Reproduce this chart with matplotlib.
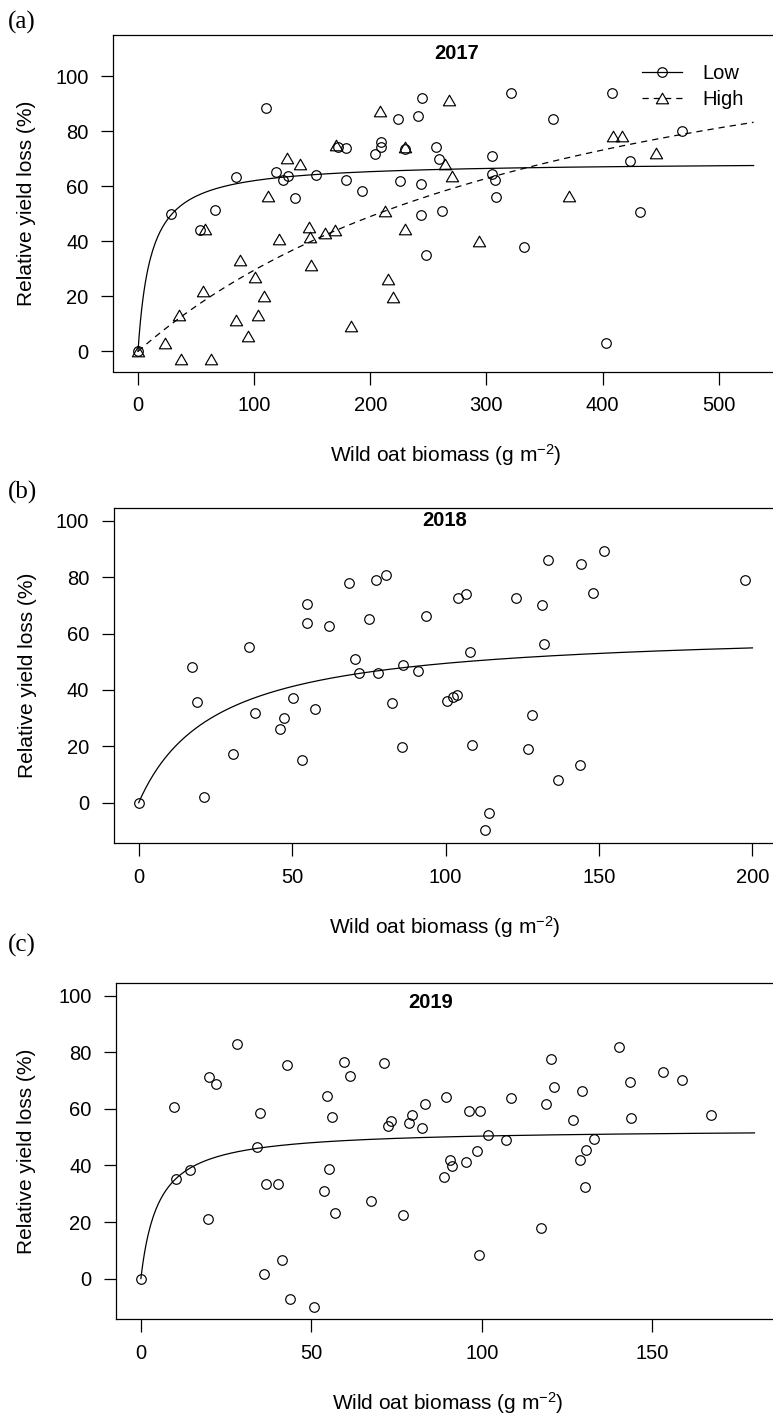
import numpy as np
import matplotlib.pyplot as plt
from matplotlib.path import Path
from matplotlib.lines import Line2D

plt.rcParams['font.family'] = ['Liberation Sans', 'DejaVu Sans']
plt.rcParams['mathtext.default'] = 'regular'

# 2017, low and high density
low17_x = [0, 28.4, 53.7, 66, 84, 110, 118.5, 124.8, 129.1, 135.1, 152.9, 172, 178.7, 179.4, 192.5,
           203.7, 208.9, 208.9, 223.8, 225.8, 230, 241, 243.3, 243.3, 244.7, 247.6, 256.2, 259, 261.6,
           304.4, 305, 307.2, 308.4, 321.3, 332.2, 357.5, 402.5, 408.3, 424, 432, 468.2]
low17_y = [0, 49.9, 44.2, 51.5, 63.4, 88.5, 65.2, 62.4, 63.6, 55.8, 64.2, 74.3, 62.4, 73.9, 58.2,
           71.6, 76.1, 74.2, 84.4, 61.8, 73.5, 85.6, 60.7, 49.6, 92, 34.9, 74.4, 69.7, 51,
           70.8, 64.4, 62.4, 55.9, 94, 37.8, 84.4, 3, 93.8, 69.3, 50.7, 80]
high17_x = [0, 23.6, 35, 37.3, 56.3, 57.4, 62.8, 84.1, 88.1, 94.4, 100.4, 103.3, 108.8, 111.6, 121.1,
            128.2, 139.2, 147.2, 148.4, 148.9, 161.3, 169.3, 170.1, 183, 208, 212.3, 215.5, 219.8,
            229.5, 229.5, 263.9, 267.4, 270.6, 293.5, 371.3, 408.8, 416.5, 446.4]
high17_y = [0, 3.2, 13.1, -2.9, 21.8, 44.3, -2.7, 11.3, 33.3, 5.5, 27, 13.2, 20.3, 56.5, 41,
            70.3, 68, 45.2, 41.6, 31.3, 43, 44, 74.9, 9.1, 87.4, 51, 26.4, 19.6,
            74.3, 44.4, 68, 91.3, 63.8, 40, 56.5, 78.2, 78.2, 71.9]

# 2018
low18_x = [0, 17.4, 19, 21.4, 30.7, 35.9, 38, 46, 47.3, 50.2, 53.3, 55, 55, 57.4, 62, 68.5, 70.5,
           71.8, 75.2, 77.4, 77.9, 80.6, 82.6, 85.9, 86.1, 90.9, 93.6, 100.4, 102.5, 103.8, 104.1,
           106.5, 108.1, 108.7, 112.7, 114.2, 122.9, 127, 128.3, 131.3, 132, 133.4, 136.6, 143.9,
           144.1, 147.9, 151.6, 197.5]
low18_y = [0, 48, 35.7, 2.1, 17.4, 55.3, 31.9, 26, 30, 37.2, 15.2, 70.6, 63.9, 33.3, 62.8, 78, 50.8,
           46.1, 65.1, 78.8, 46.1, 80.8, 35.4, 19.6, 48.9, 46.8, 66.2, 36.2, 37.5, 38.3, 72.7,
           74.1, 53.4, 20.3, -9.8, -3.8, 72.6, 19.2, 31.2, 70.1, 56.3, 86, 8.2, 13.4,
           84.5, 74.2, 89.3, 78.8]

# 2019
low19_x = [0, 9.7, 10.2, 14.4, 19.6, 20.1, 22, 28.1, 34.1, 34.9, 36.2, 36.6, 40.1, 41.3, 42.9, 43.6,
           50.8, 53.8, 54.5, 55.3, 56.1, 57, 59.7, 61.4, 67.4, 71.3, 72.6, 73.4, 76.9, 78.6, 79.4,
           82.5, 83.3, 88.9, 89.4, 90.6, 91.4, 95.5, 96.3, 98.6, 99.1, 99.4, 101.9, 107.1, 108.7,
           117.5, 118.7, 120.3, 121.1, 126.7, 128.7, 129.4, 130.3, 130.5, 132.9, 140.3, 143.5,
           143.9, 153.2, 158.7, 167.2]
low19_y = [0, 60.7, 35.2, 38.3, 21, 71.3, 68.7, 83, 46.6, 58.7, 1.5, 33.5, 33.6, 6.5, 75.4, -7.2,
           -10.2, 30.9, 64.7, 38.6, 57.2, 23.3, 76.5, 71.6, 27.3, 76.3, 53.8, 55.7, 22.5, 55.1, 57.8,
           53.4, 61.8, 35.8, 64.2, 41.9, 39.8, 41.1, 59.4, 45.2, 8.2, 59.4, 50.8, 48.9, 63.7,
           17.8, 61.8, 77.6, 67.8, 56, 42.1, 66.3, 32.3, 45.5, 49.4, 82, 69.5,
           56.7, 73, 70.2, 57.8]

# fitted rectangular hyperbola parameters (initial slope I, asymptote A, curve end)
fit_low17 = (6.186, 68.92, 530)
fit_high17 = (0.3708, 144.3, 530)
fit_18 = (2.476, 61.74, 200)
fit_19 = (10.317, 52.97, 180)


def hyperbola(fit):
    i, a, xmax = fit
    x = np.linspace(0, xmax, 500)
    return x, i * x / (1 + i * x / a)


W, H = 773, 1418
fig = plt.figure(figsize=(W / 100, H / 100), dpi=100)

tri = Path([(0, 1), (1.155, -1), (-1.155, -1), (0, 1)],
           [Path.MOVETO, Path.LINETO, Path.LINETO, Path.CLOSEPOLY])
circ_kw = dict(marker='o', ms=6.9, mfc='none', mec='k', mew=0.85)
tri_kw = dict(marker=tri, ms=8.8, mfc='none', mec='k', mew=0.85)
dash = (0, (5, 4))
xlab = 'Wild oat biomass (g m$^{-2}$)'
ylab = 'Relative yield loss (%)'


def panel(left, right, top, bottom, xlim, ylim, xticks, tag, tag_y):
    ax = fig.add_axes([left / W, 1 - bottom / H, (right - left) / W, (bottom - top) / H])
    ax.set_xlim(xlim)
    ax.set_ylim(ylim)
    ax.set_xticks(xticks)
    ax.set_yticks([0, 20, 40, 60, 80, 100])
    ax.tick_params(direction='out', length=9, width=0.9, pad=8.5, labelsize=14.5)
    for s in ax.spines.values():
        s.set_linewidth(0.9)
    # the box is cut off at the right edge of the picture
    ax.spines['right'].set_visible(False)
    ax.set_xlabel(xlab, fontsize=15, va='center')
    ax.xaxis.set_label_coords(0.5, -84 / (bottom - top))
    ax.set_ylabel(ylab, fontsize=15, va='center')
    ax.yaxis.set_label_coords((27 - left) / (right - left), 0.5)
    fig.text(8 / W, 1 - tag_y / H, tag, family=['Liberation Serif'], fontsize=18,
             ha='left', va='center')
    return ax


# (a) 2017
ax = panel(113, 778, 35.3, 371.5, (-21.5, 551), (-7.3, 114.8), [0, 100, 200, 300, 400, 500],
           '(a)', 22)
ax.plot(low17_x, low17_y, ls='none', **circ_kw)
ax.plot(high17_x, high17_y, ls='none', **tri_kw)
x, y = hyperbola(fit_low17)
ax.plot(x, y, color='k', lw=0.9)
x, y = hyperbola(fit_high17)
ax.plot(x, y, color='k', lw=0.9, ls=dash)
ax.text(274.5, 108.2, '2017', ha='center', va='center', fontweight='bold', fontsize=14.5)
handles = [Line2D([], [], color='k', lw=0.9, **circ_kw),
           Line2D([], [], color='k', lw=0.9, ls=dash, **tri_kw)]
ax.legend(handles, ['Low', 'High'], loc='center', bbox_to_anchor=(693 / W, 1 - 86.7 / H),
          bbox_transform=fig.transFigure, frameon=False, fontsize=14.5, handlelength=2.0,
          handletextpad=1.0, labelspacing=0.35, borderpad=0, borderaxespad=0)

# (b) 2018
ax = panel(113.5, 777, 508.3, 843.3, (-8.2, 208), (-14.4, 104.4), [0, 50, 100, 150, 200],
           '(b)', 492)
ax.plot(low18_x, low18_y, ls='none', **circ_kw)
x, y = hyperbola(fit_18)
ax.plot(x, y, color='k', lw=0.9)
ax.text(99.7, 100, '2018', ha='center', va='center', fontweight='bold', fontsize=14.5)

# (c) 2019
ax = panel(116, 779, 983.3, 1319.3, (-7.3, 187.2), (-14.4, 104.4), [0, 50, 100, 150],
           '(c)', 945)
ax.plot(low19_x, low19_y, ls='none', **circ_kw)
x, y = hyperbola(fit_19)
ax.plot(x, y, color='k', lw=0.9)
ax.text(84.9, 97.5, '2019', ha='center', va='center', fontweight='bold', fontsize=14.5)

fig.savefig('out.png', dpi=100)
